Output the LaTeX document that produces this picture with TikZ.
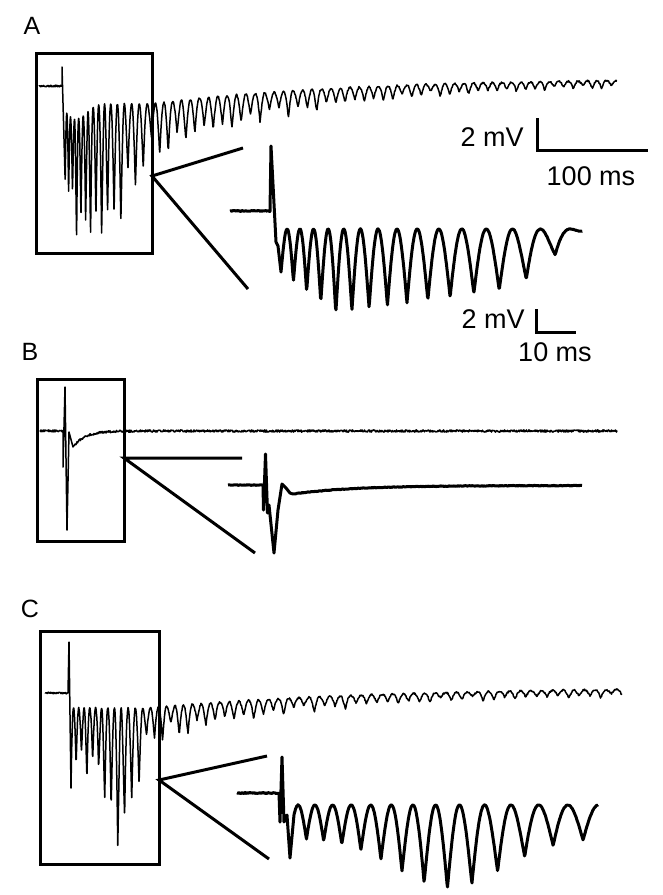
\documentclass[tikz,border=0pt]{standalone}
\usepackage{fontspec}
\setmainfont{Liberation Sans}
\begin{document}
\begin{tikzpicture}[x=0.5pt,y=-0.5pt,
    rawtrace/.style={line width=0.75pt,line join=round},
    zoomtrace/.style={line width=1.5pt,line join=round},
    boxline/.style={line width=1.5pt},
    scalebar/.style={line width=1.5pt},
    panel/.style={font=\fontsize{12.5}{14}\selectfont,inner sep=0pt},
    barlabel/.style={font=\fontsize{13.5}{16}\selectfont,inner sep=0pt},
    declare function={
      wav(\p)=1-abs(cos(180*\p));
      jit(\p)=1+0.18*sin(133*\p)+0.12*sin(251*\p)+0.08*sin(47*\p);
      jitc(\p)=1+0.22*sin(133*\p)+0.14*sin(251*\p)+0.1*sin(47*\p);
      cycA(\u)=\u/9.5+6.5*(1-exp(-\u/36))+0.5;
      topA(\t)=104+15*exp(-min(((\t-76)/14)^2,20))-26*(1-exp(-max(\t-150,0)/200));
      depA(\u)=63+3*min(\u,21)-0.8*max(min(\u,70)-21,0)-3.9*max(min(\u,80)-70,0)-43*(1-exp(-max(\u-80,0)/140));
      cycI(\u)=15.38*ln(1+\u/184.6)+0.5;
      depI(\u)=43+0.76*min(\u,54)-0.14*max(\u-54,0)-0.7*max(\u-235,0);
      cycC(\u)=\u/10.7+7.5*(1-exp(-\u/70.6))+0.5;
      topC(\t)=708-21*(1-exp(-max(\t-150,0)/220));
      depC(\u)=48*exp(-\u/110)+6+80*exp(-min(((\u-48)/20)^2,20));
      cycJ(\u)=20*ln(1+\u/320)+0.5;
      depJ(\u)=33+50*exp(-min(((\u-160)/75)^2,20));
    }]
  \pgfmathsetseed{7}
  \useasboundingbox (0,0) rectangle (663,895);

  % A
  \node[panel] (labA) at (32,26) {A};
  \draw[boxline] (36,53) rectangle (152,253);
  \draw[rawtrace] plot[domain=39:62,samples=47] (\x,{86+0.8*rand}) -- (62,67) -- (65,175)
    -- plot[domain=65.2:160,samples=475] (\x,{topA(\x)+depA(\x-65)*wav(cycA(\x-65))*jit(cycA(\x-65))+0.7*rand})
    -- plot[domain=160.5:617,samples=914] (\x,{topA(\x)+depA(\x-65)*wav(cycA(\x-65))*jit(cycA(\x-65))+0.8*rand});
  \coordinate (zA) at (152,176);
  \coordinate (zA1) at (243,148);
  \coordinate (zA2) at (248,289);
  \draw[boxline] (zA1) -- (zA) -- (zA2);
  \draw[zoomtrace] plot[domain=230:270,samples=41] (\x,{211+0.5*rand}) -- (271,146) -- (276,242) -- (278,246) -- (281,272)
    -- plot[domain=283:582,samples=599] (\x,{229+depI(\x-281)*wav(cycI(\x-281))+0.3*rand});
  \draw[scalebar] (537,118) -- (537,150) -- (648,150);
  \node[barlabel,anchor=east] (mvA) at (524,137) {2 mV};
  \node[barlabel] (msA) at (591,176) {100 ms};
  \draw[scalebar] (536,309) -- (536,332) -- (576,332);
  \node[barlabel,anchor=east] (mvI) at (525,319) {2 mV};
  \node[barlabel] (msI) at (555,352) {10 ms};

  % B
  \node[panel] (labB) at (30,352) {B};
  \draw[boxline] (37,379) rectangle (124,541);
  \draw[rawtrace] plot[domain=40:63,samples=47] (\x,{431+1.1*rand}) -- (63,467) -- (65,387) -- (67,530) -- (69,432) -- (73,447)
    -- plot[domain=74:617,samples=1087] (\x,{431+16*exp(-(\x-73)/12)+1.1*rand});
  \coordinate (zB) at (124,458);
  \coordinate (zB1) at (242,458);
  \coordinate (zB2) at (255,553);
  \draw[boxline] (zB1) -- (zB) -- (zB2);
  \draw[zoomtrace] plot[domain=228:263,samples=36] (\x,{485+0.3*rand}) -- (263.5,510) -- (265.5,454) -- (267.5,513) -- (269,505)
    -- (274,553) -- (278,510) -- (282,484) -- (286,488) -- (290,493)
    -- plot[domain=293:582,samples=290] (\x,{485.5+8.5*exp(-(\x-293)/60)+0.3*rand});

  % C
  \node[panel] (labC) at (30,609) {C};
  \draw[boxline] (40,631) rectangle (159,864);
  \draw[rawtrace] plot[domain=45:68,samples=47] (\x,{693+0.8*rand}) -- (69,642) -- (71,788)
    -- plot[domain=71.5:170,samples=395] (\x,{topC(\x)+depC(\x-71)*wav(cycC(\x-71))*jitc(cycC(\x-71))+0.7*rand})
    -- plot[domain=170.5:622,samples=904] (\x,{topC(\x)+depC(\x-71)*wav(cycC(\x-71))*jitc(cycC(\x-71))+0.8*rand});
  \coordinate (zC) at (159,780);
  \coordinate (zC1) at (267,756);
  \coordinate (zC2) at (269,859);
  \draw[boxline] (zC1) -- (zC) -- (zC2);
  \draw[zoomtrace] plot[domain=237:279,samples=43] (\x,{793+0.6*rand}) -- (280,822) -- (282,757) -- (284,822) -- (287,815) -- (290,858)
    -- plot[domain=294:598,samples=609] (\x,{805+depJ(\x-290)*wav(cycJ(\x-290))+0.3*rand});
\end{tikzpicture}
\end{document}
